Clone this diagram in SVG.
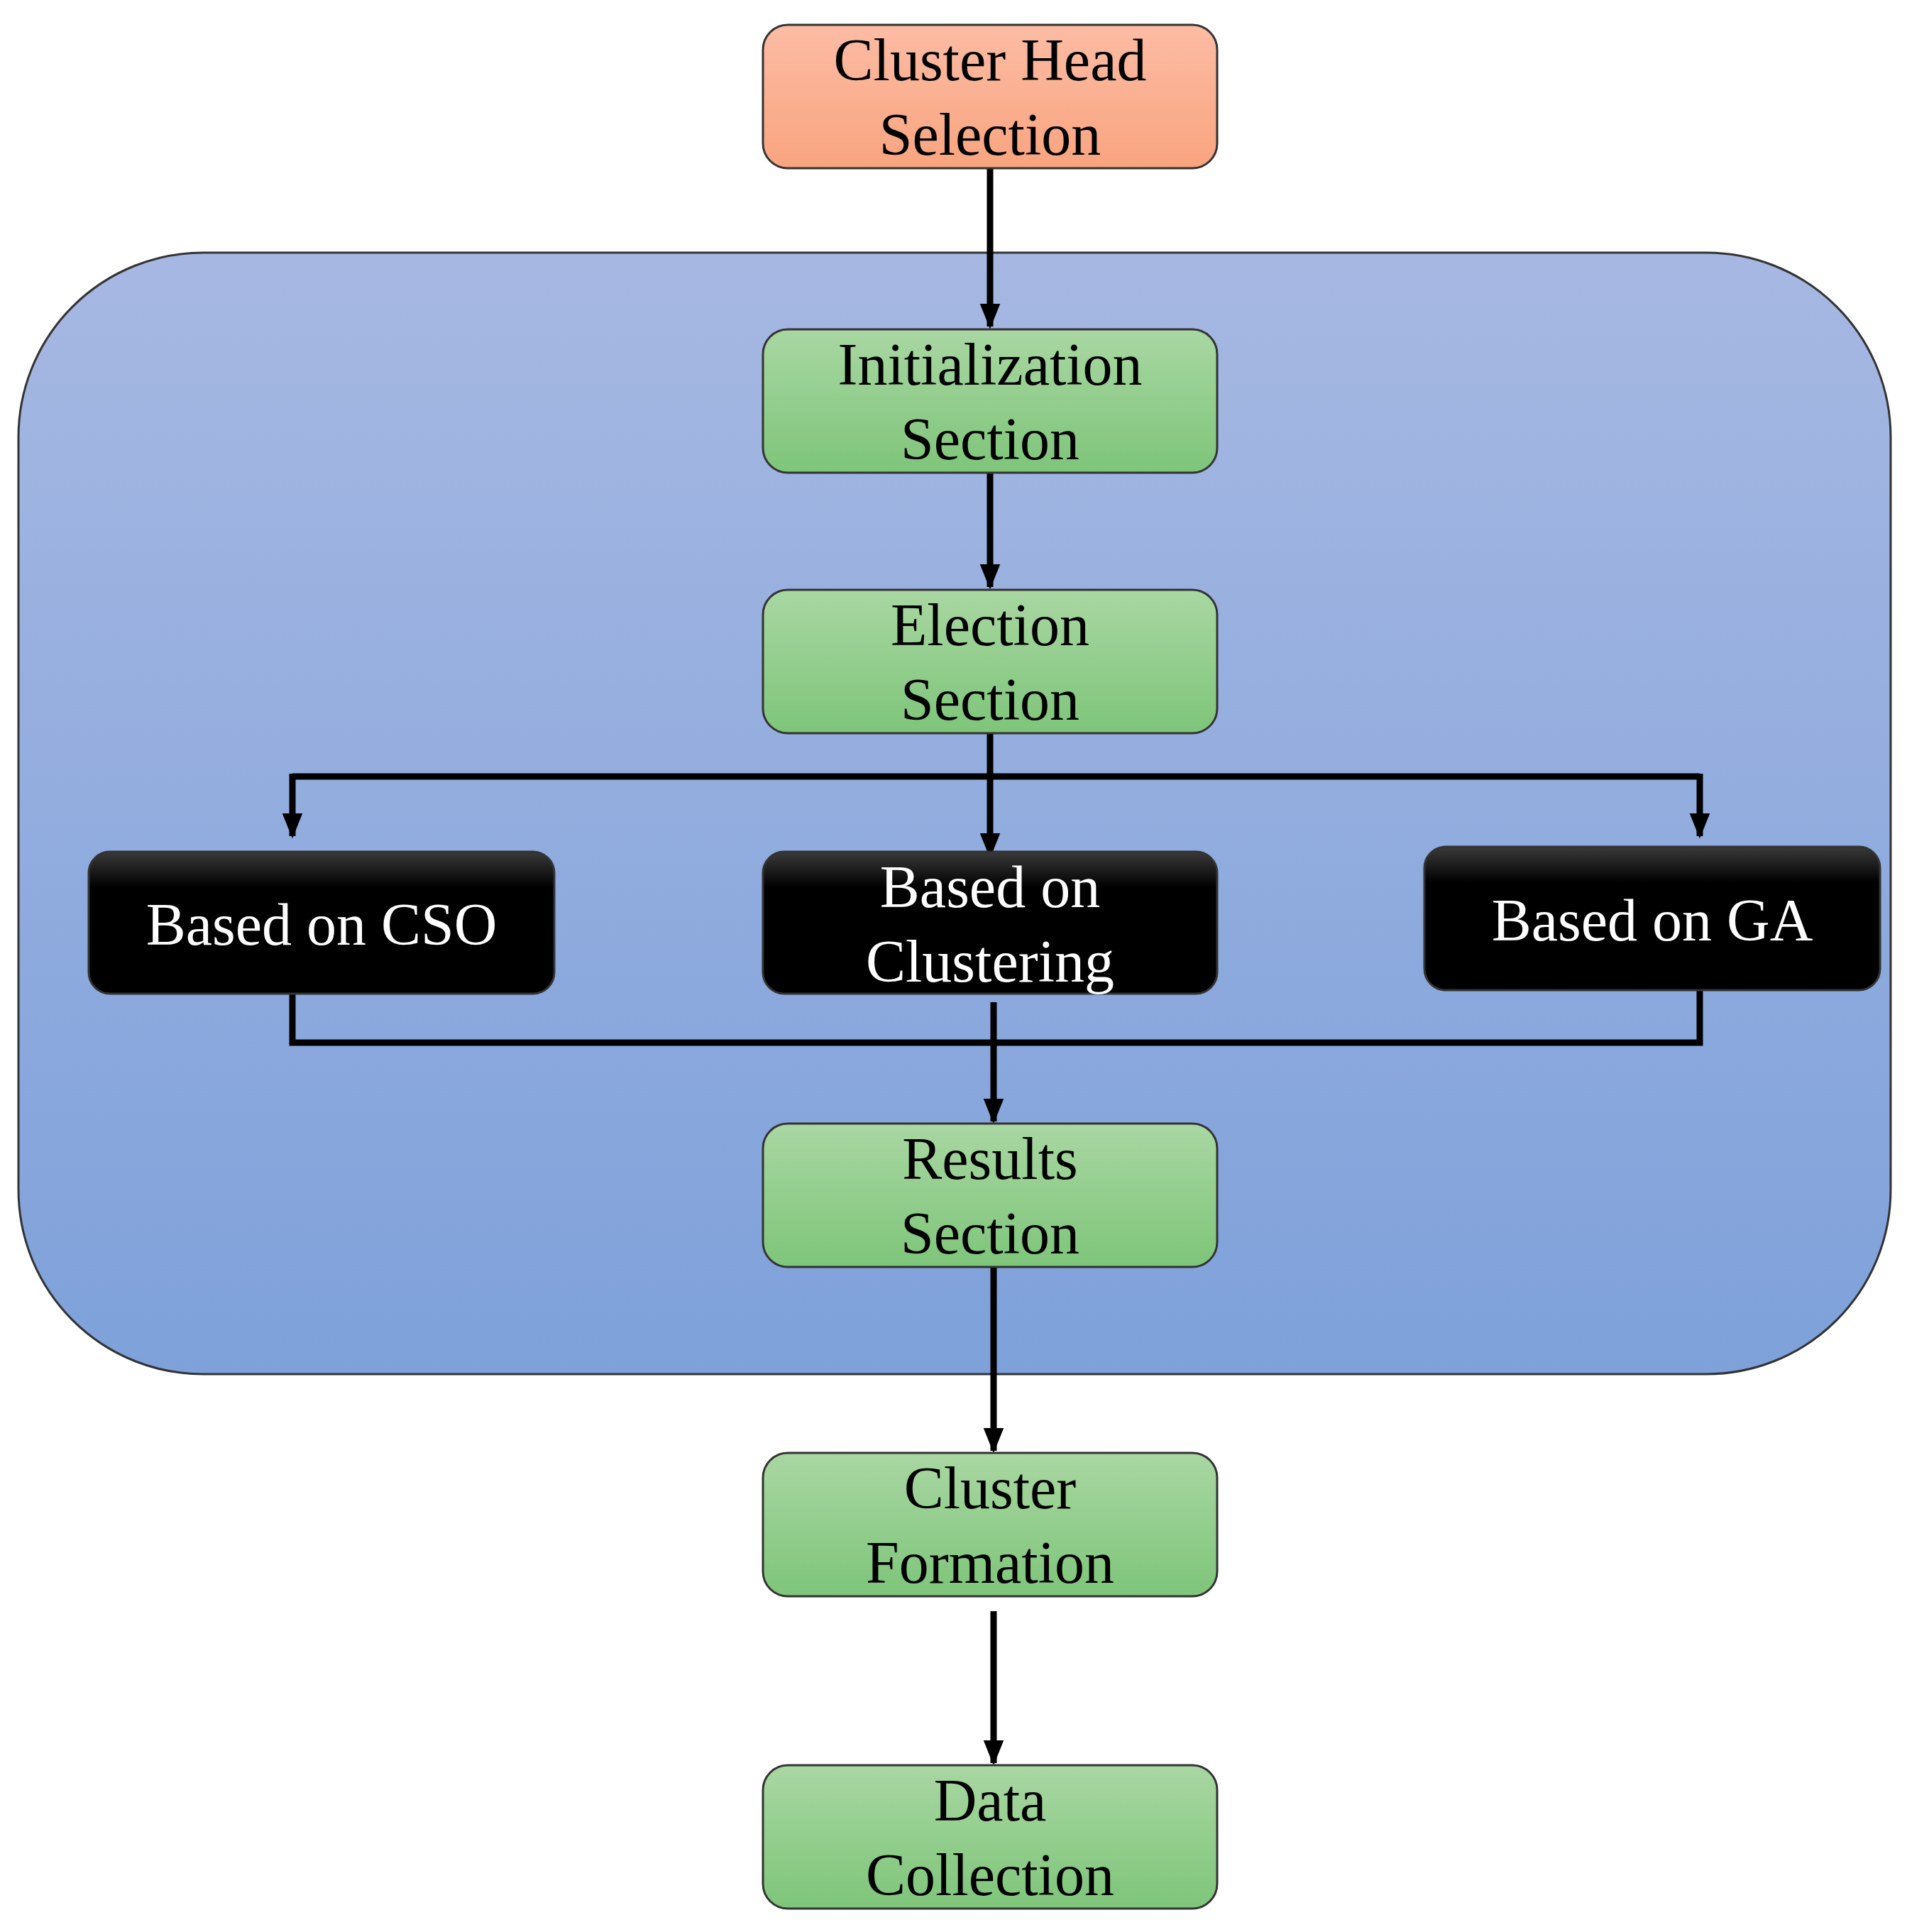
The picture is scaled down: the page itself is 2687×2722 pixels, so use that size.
<svg xmlns="http://www.w3.org/2000/svg" width="2687" height="2722" viewBox="0 0 2687 2722">
<defs>
<linearGradient id="gOr" x1="0" y1="0" x2="0" y2="1"><stop offset="0" stop-color="#fcbca4"/><stop offset="1" stop-color="#f9a47f"/></linearGradient>
<linearGradient id="gGr" x1="0" y1="0" x2="0" y2="1"><stop offset="0" stop-color="#a9d7a2"/><stop offset="1" stop-color="#7ec57a"/></linearGradient>
<linearGradient id="gBk" x1="0" y1="0" x2="0" y2="1"><stop offset="0" stop-color="#3a3a3a"/><stop offset="0.25" stop-color="#000"/><stop offset="1" stop-color="#000"/></linearGradient>
<linearGradient id="gBl" x1="0" y1="0" x2="0" y2="1"><stop offset="0" stop-color="#a6b8e2"/><stop offset="1" stop-color="#7ea1da"/></linearGradient>
<marker id="ah" markerWidth="4" markerHeight="4" refX="3.6" refY="2" orient="auto" markerUnits="strokeWidth"><path d="M0,0.4 L4,2 L0,3.6 z" fill="#000"/></marker>
<style>
.n{stroke:#333;stroke-width:3}
.t{font-family:"Liberation Serif","Times New Roman",serif;font-size:84px;text-anchor:middle;fill:#000}
.w{fill:#fff}
.c{fill:none;stroke:#000;stroke-width:9}
</style>
</defs>
<rect x="0" y="0" width="2687" height="2722" fill="#fff"/>
<rect id="container" x="26" y="356" width="2638" height="1580" rx="260" fill="url(#gBl)" stroke="#333" stroke-width="3"/>
<g id="connectors">
<path class="c" d="M1395,237 V460" marker-end="url(#ah)"/>
<path class="c" d="M1395,660 V827" marker-end="url(#ah)"/>
<path class="c" d="M1395,1033 V1206" marker-end="url(#ah)"/>
<path class="c" d="M412,1094 H2395"/>
<path class="c" d="M412,1090 V1178" marker-end="url(#ah)"/>
<path class="c" d="M2395,1090 V1178" marker-end="url(#ah)"/>
<path class="c" d="M412,1400 V1469 H2395 V1395"/>
<path class="c" d="M1400,1412 V1580" marker-end="url(#ah)"/>
<path class="c" d="M1400,1784 V2044" marker-end="url(#ah)"/>
<path class="c" d="M1400,2270 V2484" marker-end="url(#ah)"/>
</g>
<g id="n-chs"><rect class="n" x="1075" y="35" width="640" height="202" rx="35" fill="url(#gOr)"/><text class="t" x="1395" y="113">Cluster Head</text><text class="t" x="1395" y="218">Selection</text></g>
<g id="n-init"><rect class="n" x="1075" y="464" width="640" height="202" rx="35" fill="url(#gGr)"/><text class="t" x="1395" y="542">Initialization</text><text class="t" x="1395" y="647">Section</text></g>
<g id="n-elec"><rect class="n" x="1075" y="831" width="640" height="202" rx="35" fill="url(#gGr)"/><text class="t" x="1395" y="909">Election</text><text class="t" x="1395" y="1014">Section</text></g>
<g id="n-cso"><rect class="n" x="125" y="1200" width="656" height="200" rx="30" fill="url(#gBk)"/><text class="t w" x="453" y="1331">Based on CSO</text></g>
<g id="n-clus"><rect class="n" x="1075" y="1200" width="640" height="200" rx="30" fill="url(#gBk)"/><text class="t w" x="1395" y="1278">Based on</text><text class="t w" x="1395" y="1383">Clustering</text></g>
<g id="n-ga"><rect class="n" x="2007" y="1193" width="642" height="202" rx="30" fill="url(#gBk)"/><text class="t w" x="2328" y="1325">Based on GA</text></g>
<g id="n-res"><rect class="n" x="1075" y="1583" width="640" height="202" rx="35" fill="url(#gGr)"/><text class="t" x="1395" y="1661">Results</text><text class="t" x="1395" y="1766">Section</text></g>
<g id="n-cf"><rect class="n" x="1075" y="2047" width="640" height="202" rx="35" fill="url(#gGr)"/><text class="t" x="1395" y="2125">Cluster</text><text class="t" x="1395" y="2230">Formation</text></g>
<g id="n-dc"><rect class="n" x="1075" y="2487" width="640" height="202" rx="35" fill="url(#gGr)"/><text class="t" x="1395" y="2565">Data</text><text class="t" x="1395" y="2670">Collection</text></g>
</svg>
